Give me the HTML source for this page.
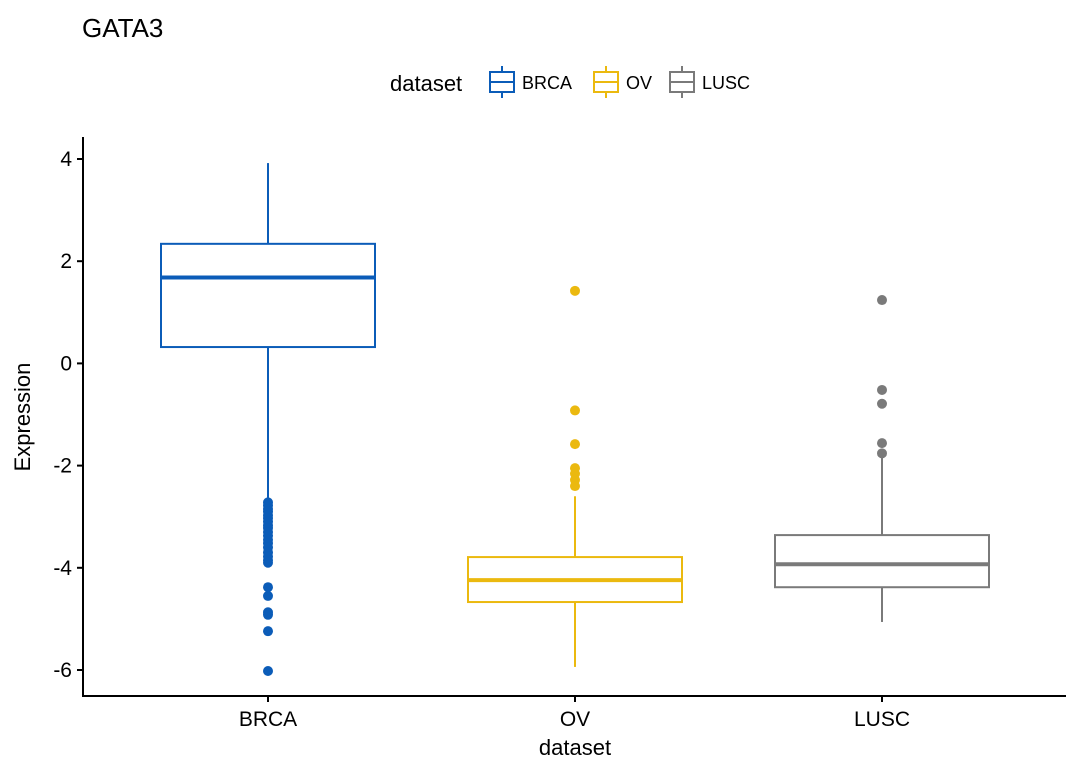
<!DOCTYPE html>
<html><head><meta charset="utf-8"><style>
body{margin:0;background:#fff;}
svg text{font-family:"Liberation Sans",Arial,sans-serif;fill:#000;}
</style></head><body>
<svg id="chart" width="1080" height="771" xmlns="http://www.w3.org/2000/svg">
<text x="82" y="37" font-size="26">GATA3</text>
<g id="legend"></g>
<g id="plot"></g>
<line x1="83" y1="137" x2="83" y2="697" stroke="#000" stroke-width="2"/>
<line x1="82" y1="696" x2="1066" y2="696" stroke="#000" stroke-width="2"/>
<text x="0" y="0" font-size="22" text-anchor="middle" transform="translate(30,417) rotate(-90)">Expression</text>
<text x="575" y="755" font-size="22" text-anchor="middle">dataset</text>
</svg>
<script>
const categories = ["BRCA", "OV", "LUSC"];
const colors = ["#0B5CB8", "#EBB90F", "#7A7A7A"];
const q1 = [0.32, -4.67, -4.38];
const medians = [1.68, -4.24, -3.93];
const q3 = [2.34, -3.79, -3.36];
const whiskerLow = [-2.7, -5.94, -5.06];
const whiskerHigh = [3.92, -2.6, -1.78];
const outliersBRCA = [-2.72,-2.78,-2.85,-2.9,-2.97,-3.03,-3.1,-3.17,-3.22,-3.3,-3.37,-3.45,-3.52,-3.6,-3.7,-3.78,-3.85,-3.9,-4.38,-4.55,-4.87,-4.92,-5.24,-6.02];
const outliersOV = [1.42,-0.92,-1.58,-2.05,-2.16,-2.28,-2.4];
const outliersLUSC = [1.24,-0.52,-0.79,-1.56,-1.76];
const outliers = [outliersBRCA, outliersOV, outliersLUSC];
const yTicks = [4, 2, 0, -2, -4, -6];

const NS = "http://www.w3.org/2000/svg";
const y = v => 363.4 - v * 51.1;
const x = i => 268 + i * 307;
const bw = 214;
const plot = document.getElementById("plot");
function mk(tag, attrs, parent) {
  const e = document.createElementNS(NS, tag);
  for (const k in attrs) e.setAttribute(k, attrs[k]);
  parent.appendChild(e);
  return e;
}
yTicks.forEach(t => {
  const tk = mk("line", {x1: 77, x2: 83, y1: y(t), y2: y(t), stroke: "#000", "stroke-width": 2}, plot);
  
  
  const lb = mk("text", {x: 72, y: y(t) + 7, "font-size": 21, "text-anchor": "end"}, plot);
  lb.textContent = t;
  
  
});
categories.forEach((c, i) => {
  const cx = x(i), col = colors[i];
  const g = mk("g", {}, plot);
  
  
  mk("line", {x1: cx, x2: cx, y1: y(q3[i]), y2: y(whiskerHigh[i]), stroke: col, "stroke-width": 2}, g);
  mk("line", {x1: cx, x2: cx, y1: y(q1[i]), y2: y(whiskerLow[i]), stroke: col, "stroke-width": 2}, g);
  mk("rect", {x: cx - bw/2, y: y(q3[i]), width: bw, height: y(q1[i]) - y(q3[i]), fill: "#fff", stroke: col, "stroke-width": 2}, g);
  mk("line", {x1: cx - bw/2, x2: cx + bw/2, y1: y(medians[i]), y2: y(medians[i]), stroke: col, "stroke-width": 4}, g);
  outliers[i].forEach(v => {
    const p = mk("circle", {cx: cx, cy: y(v), r: 5, fill: col}, g);
    
    
  });
  const tk = mk("line", {x1: cx, x2: cx, y1: 696, y2: 702, stroke: "#000", "stroke-width": 2}, plot);
  
  
  const lb = mk("text", {x: cx, y: 726, "font-size": 21, "text-anchor": "middle"}, plot);
  lb.textContent = c;
  
  
});
const lg = document.getElementById("legend");
const lt = mk("text", {x: 390, y: 91, "font-size": 22}, lg);
lt.textContent = "dataset";


const lx = [488, 592, 668];
categories.forEach((c, i) => {
  const g = mk("g", {}, lg);
  
  
  const kx = lx[i], col = colors[i];
  mk("line", {x1: kx + 14, x2: kx + 14, y1: 66, y2: 98, stroke: col, "stroke-width": 2}, g);
  mk("rect", {x: kx + 2, y: 72, width: 24, height: 20, fill: "#fff", stroke: col, "stroke-width": 2}, g);
  mk("line", {x1: kx + 2, x2: kx + 26, y1: 82, y2: 82, stroke: col, "stroke-width": 2}, g);
  const t = mk("text", {x: kx + 34, y: 89, "font-size": 18}, g);
  t.textContent = c;
});
</script>
</body></html>
